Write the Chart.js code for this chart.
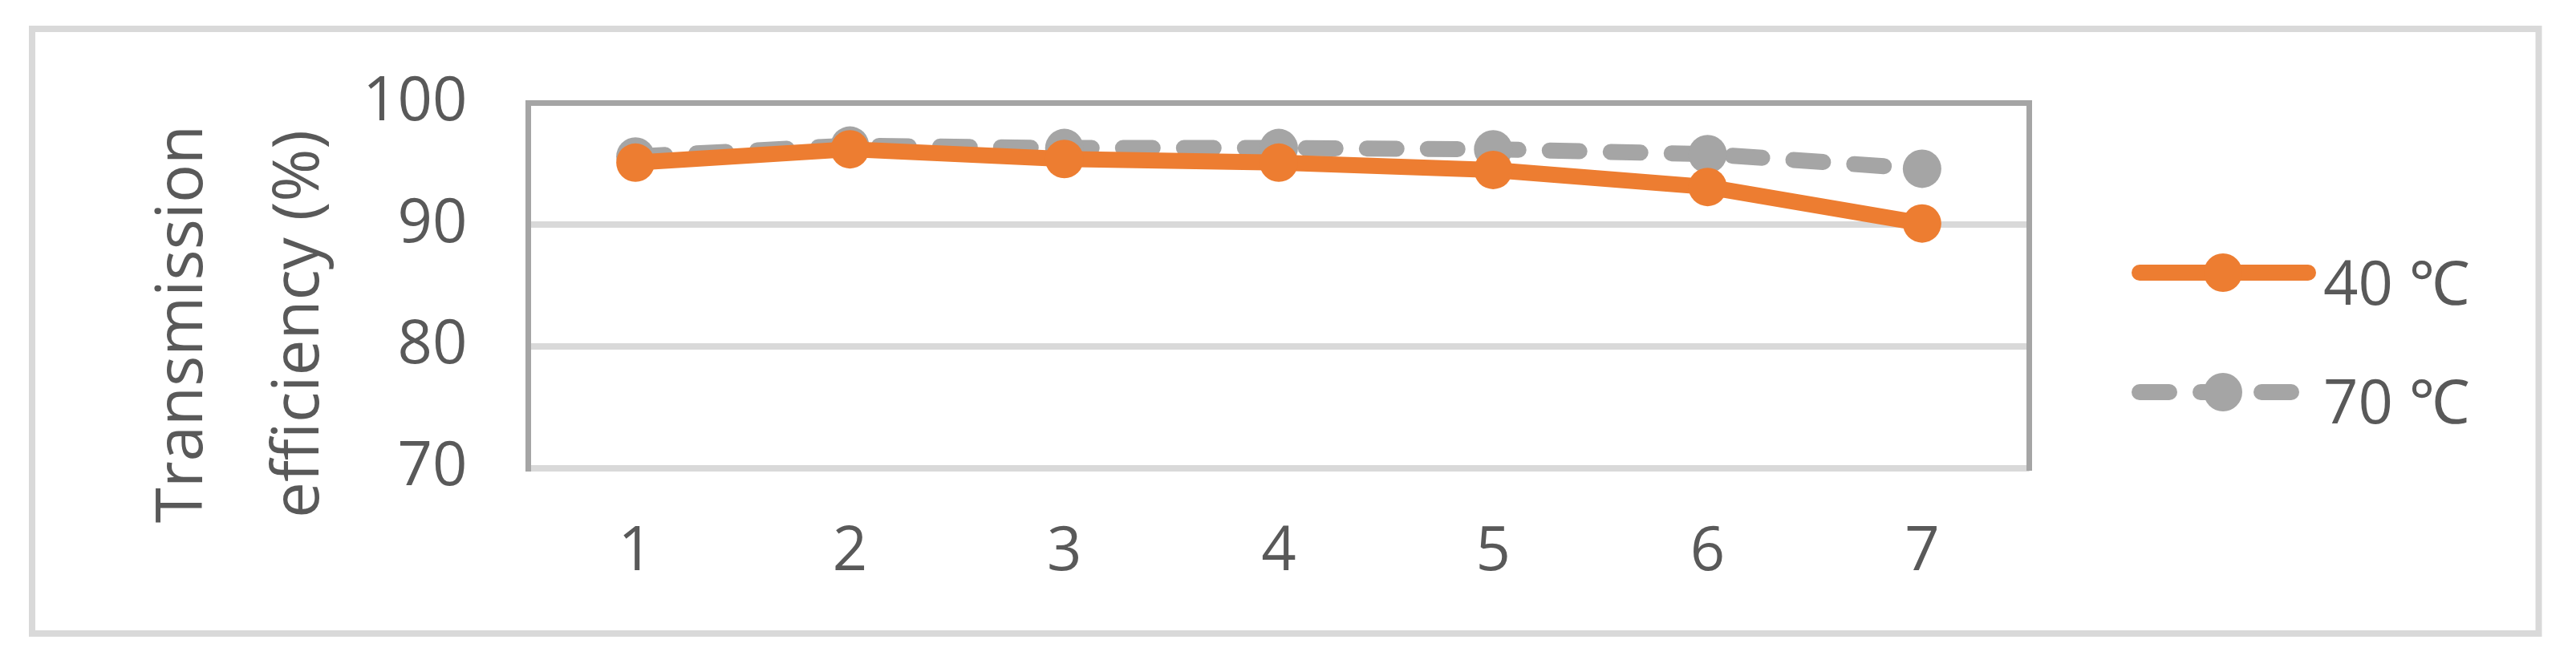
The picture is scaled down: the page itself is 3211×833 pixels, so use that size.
<!DOCTYPE html>
<html>
<head>
<meta charset="utf-8">
<script src="https://cdn.jsdelivr.net/npm/chart.js@4.4.1/dist/chart.umd.min.js"></script>
<style>
  html, body { margin: 0; padding: 0; background: #fff; }
  #wrap { position: relative; width: 3211px; height: 833px; }
</style>
</head>
<body>
<div id="wrap"><canvas id="chart"></canvas></div>
<script>
// Data
const cycles = ["1", "2", "3", "4", "5", "6", "7"];
const eff40 = [95.1, 96.2, 95.4, 95.1, 94.5, 93.1, 90.1];
const eff70 = [95.6, 96.5, 96.3, 96.3, 96.2, 95.8, 94.6];
const seriesNames = ["40 \u2103", "70 \u2103"];
const yTitleLines = ["Transmission", "efficiency (%)"];

const textColor = "#595959";
const orange = "#ED7D31";
const gray = "#A5A5A5";
const lightGrid = "#D9D9D9";
const fontFamily = "'Open Sans', 'Noto Sans', sans-serif";

// Outer frame, right plot border, y title and legend drawn by hand
const decorations = {
  id: "decorations",
  beforeDraw(chart) {
    const { ctx } = chart;
    ctx.save();
    ctx.strokeStyle = lightGrid;
    ctx.lineWidth = 8;
    ctx.strokeRect(40, 36, 3124.5, 754);
    ctx.restore();
  },
  beforeDatasetsDraw(chart) {
    const { ctx, chartArea } = chart;
    ctx.save();
    ctx.strokeStyle = gray;
    ctx.lineWidth = 7;
    ctx.beginPath();
    ctx.moveTo(chartArea.right, chartArea.top - 3.5);
    ctx.lineTo(chartArea.right, chartArea.bottom + 3.5);
    ctx.stroke();
    ctx.restore();
  },
  afterDraw(chart) {
    const { ctx } = chart;
    ctx.save();
    // y axis title
    ctx.fillStyle = textColor;
    ctx.font = `80px ${fontFamily}`;
    ctx.textAlign = "center";
    ctx.textBaseline = "alphabetic";
    const baselines = [252, 397];
    yTitleLines.forEach((line, i) => {
      ctx.save();
      ctx.translate(baselines[i], 404);
      ctx.rotate(-Math.PI / 2);
      ctx.fillText(line, 0, 0);
      ctx.restore();
    });

    // legend
    const rows = [340, 489];
    const textBase = [380, 528];
    chart.data.datasets.forEach((ds, i) => {
      const y = rows[i];
      ctx.save();
      ctx.strokeStyle = ds.borderColor;
      ctx.lineWidth = ds.borderWidth;
      ctx.lineCap = "round";
      ctx.setLineDash(ds.borderDash || []);
      ctx.beginPath();
      ctx.moveTo(2667, y);
      ctx.lineTo(ds.borderDash ? 2857 : 2877, y);
      ctx.stroke();
      ctx.setLineDash([]);
      ctx.beginPath();
      ctx.arc(2771, y, ds.pointRadius, 0, Math.PI * 2);
      ctx.fillStyle = ds.pointBackgroundColor;
      ctx.fill();
      ctx.restore();

      ctx.fillStyle = textColor;
      ctx.font = `76px ${fontFamily}`;
      ctx.textAlign = "left";
      ctx.textBaseline = "alphabetic";
      ctx.fillText(ds.label, 2896, textBase[i]);
    });
    ctx.restore();
  }
};

new Chart(document.getElementById("chart"), {
  type: "line",
  data: {
    labels: cycles,
    datasets: [
      {
        label: seriesNames[0],
        data: eff40,
        borderColor: orange,
        backgroundColor: orange,
        borderWidth: 20,
        borderCapStyle: "round",
        borderJoinStyle: "round",
        pointRadius: 24,
        pointHoverRadius: 24,
        pointBorderWidth: 0,
        pointBackgroundColor: orange,
        tension: 0
      },
      {
        label: seriesNames[1],
        data: eff70,
        borderColor: gray,
        backgroundColor: gray,
        borderWidth: 20,
        borderDash: [37, 39],
        borderCapStyle: "round",
        borderJoinStyle: "round",
        pointRadius: 24,
        pointHoverRadius: 24,
        pointBorderWidth: 0,
        pointBackgroundColor: gray,
        tension: 0
      }
    ]
  },
  options: {
    responsive: true,
    maintainAspectRatio: false,
    devicePixelRatio: 1,
    animation: false,
    layout: { padding: { left: 0, top: 128.5, right: 681.5, bottom: 0 } },
    plugins: {
      legend: { display: false },
      tooltip: { enabled: false }
    },
    scales: {
      x: {
        offset: true,
        grid: { display: false, drawTicks: false },
        border: { display: true, color: lightGrid, width: 7 },
        ticks: {
          color: textColor,
          font: { family: fontFamily, size: 76 },
          padding: 60,
          maxRotation: 0
        },
        afterFit(scale) { scale.height = 249.5; }
      },
      y: {
        min: 70,
        max: 100,
        ticks: {
          stepSize: 10,
          color: textColor,
          font: { family: fontFamily, size: 76 },
          padding: 76
        },
        grid: {
          drawTicks: false,
          color: ctx => (ctx.tick && ctx.tick.value === 100 ? gray : lightGrid),
          lineWidth: ctx => (ctx.tick && ctx.tick.value === 100 ? 7 : 8)
        },
        border: { display: true, color: gray, width: 7 },
        afterFit(scale) { scale.width = 658.5; }
      }
    }
  },
  plugins: [decorations]
});
</script>
</body>
</html>
